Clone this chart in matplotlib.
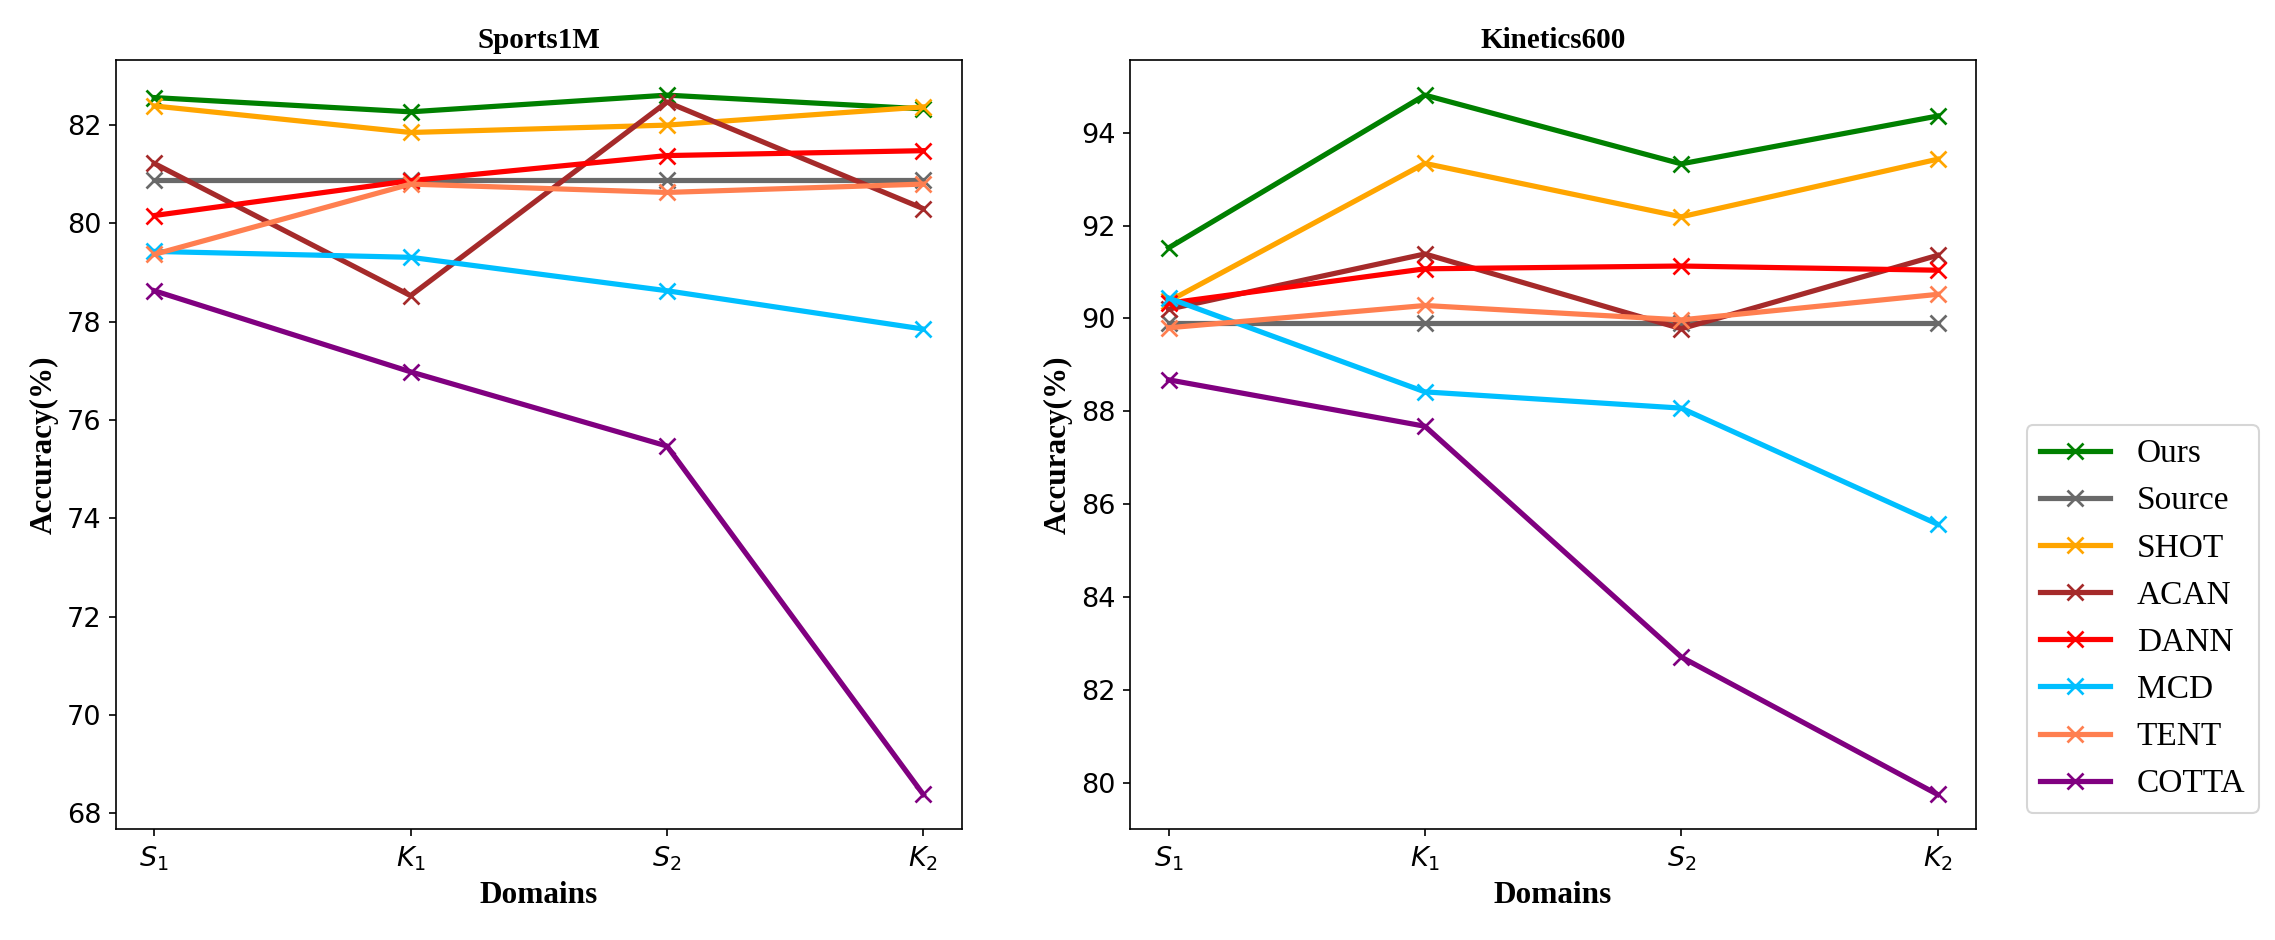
import numpy as np
import matplotlib
matplotlib.use('Agg')
import matplotlib.pyplot as plt

domains = ['$S_1$', '$K_1$', '$S_2$', '$K_2$']
methods = ['Ours', 'Source', 'SHOT', 'ACAN', 'DANN', 'MCD', 'TENT', 'COTTA']
colors = ['green', 'dimgray', 'orange', 'brown', 'red', 'deepskyblue', 'coral', 'purple']

# Sports1M accuracies
sports_ours = [82.56, 82.27, 82.61, 82.33]
sports_source = [80.88, 80.88, 80.88, 80.88]
sports_shot = [82.39, 81.85, 82.00, 82.37]
sports_acan = [81.22, 78.53, 82.47, 80.30]
sports_dann = [80.16, 80.87, 81.38, 81.48]
sports_mcd = [79.43, 79.31, 78.63, 77.85]
sports_tent = [79.37, 80.80, 80.63, 80.80]
sports_cotta = [78.63, 76.98, 75.47, 68.38]

# Kinetics600 accuracies
kin_ours = [91.52, 94.81, 93.33, 94.36]
kin_source = [89.91, 89.91, 89.91, 89.91]
kin_shot = [90.37, 93.34, 92.19, 93.43]
kin_acan = [90.20, 91.39, 89.78, 91.36]
kin_dann = [90.33, 91.07, 91.13, 91.04]
kin_mcd = [90.44, 88.42, 88.07, 85.57]
kin_tent = [89.80, 90.28, 89.97, 90.52]
kin_cotta = [88.68, 87.68, 82.71, 79.75]

sports = [sports_ours, sports_source, sports_shot, sports_acan,
          sports_dann, sports_mcd, sports_tent, sports_cotta]
kinetics = [kin_ours, kin_source, kin_shot, kin_acan,
            kin_dann, kin_mcd, kin_tent, kin_cotta]

serif = ['Liberation Serif', 'DejaVu Serif']

fig, axes = plt.subplots(1, 2, figsize=(2275 / 150, 940 / 150), dpi=150)
fig.subplots_adjust(left=0.0509, right=0.8686, bottom=0.1176, top=0.936, wspace=0.199)

x = np.arange(len(domains))
for ax, data, title in zip(axes, [sports, kinetics], ['Sports1M', 'Kinetics600']):
    for name, vals, c in zip(methods, data, colors):
        ax.plot(x, vals, color=c, marker='x', linewidth=2.5, markersize=8,
                markeredgewidth=1.3, label=name)
    ax.set_xticks(x)
    ax.set_xticklabels(domains)
    ax.tick_params(labelsize=13)
    ax.set_title(title, family=serif, fontweight='bold', fontsize=14)
    ax.set_xlabel('Domains', family=serif, fontweight='bold', fontsize=15)
    ax.set_ylabel('Accuracy(%)', family=serif, fontweight='bold', fontsize=15)

# legend sits outside, to the right of the second panel
axes[1].legend(loc='lower left', bbox_to_anchor=(1.04, 0.0),
               prop={'family': serif, 'size': 16}, handlelength=2.1)

fig.savefig('out.png', dpi=150)
